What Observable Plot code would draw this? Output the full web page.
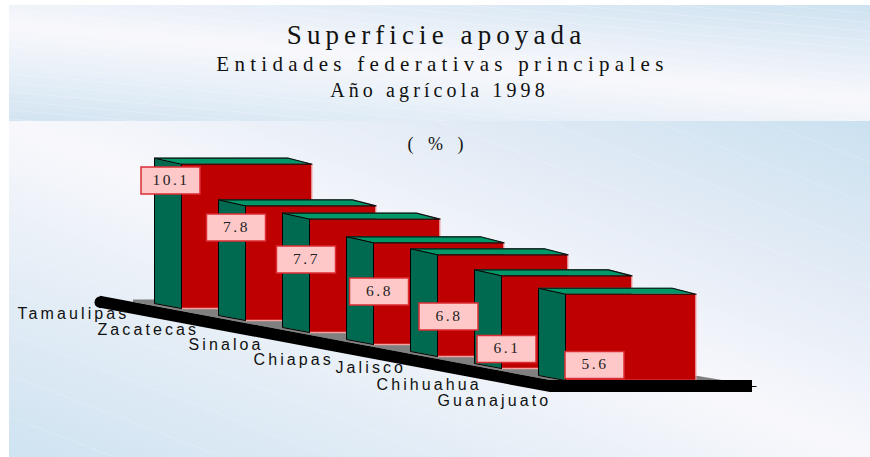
<!DOCTYPE html>
<html lang="es">
<head>
<meta charset="utf-8">
<script src="https://cdn.jsdelivr.net/npm/d3@7"></script>
<script src="https://cdn.jsdelivr.net/npm/@observablehq/plot@0.6"></script>
<style>
  html, body { margin: 0; padding: 0; background: #fff; }
  #page { position: relative; width: 870px; height: 457px; overflow: hidden; }
  #head {
    position: absolute; left: 9px; top: 5px; width: 861px; height: 116px;
    text-align: center; color: #111; font-family: "Liberation Serif", serif;
    background:
      repeating-linear-gradient(185deg, rgba(255,255,255,0) 0 8px, rgba(255,255,255,.18) 8px 9px),
      linear-gradient(185deg, #cde2f0 0%, #e6eef7 28%, #f8f8fc 50%, #e8f0f8 72%, #d2e4f1 100%);
  }
  #head div { position: absolute; left: 0; right: 0; white-space: nowrap; }
  #t1 { top: 15px; font-size: 27px; letter-spacing: 5.1px; transform: translateX(-3px); }
  #t2 { top: 47px; font-size: 21px; letter-spacing: 5.3px; transform: translateX(3px); }
  #t3 { top: 74px; font-size: 20px; letter-spacing: 4.1px; transform: translateX(0px); }
  #back {
    position: absolute; left: 9px; top: 121px; width: 861px; height: 336px;
    background:
      repeating-linear-gradient(201deg, rgba(255,255,255,0) 0 38px, rgba(255,255,255,.16) 38px 39px),
      linear-gradient(201deg, #cbe1f0 0%, #e4ecf6 27%, #f8f8fc 50%, #e4edf6 73%, #cfe3f1 100%);
  }
  #unit {
    position: absolute; left: 0; width: 870px; top: 134px; text-align: center; transform: translateX(3px);
    font: 18px "Liberation Serif", serif; letter-spacing: 5px; white-space: pre; color: #111;
  }
  #chart { position: absolute; left: 0; top: 121px; }
  #chart svg { background: transparent; display: block; }
  g[font-family="Liberation Sans"] text { letter-spacing: 3.1px; }
  g[font-family="Liberation Serif"] text { letter-spacing: 2.5px; }
</style>
</head>
<body>
<div id="page">
  <div id="head">
    <div id="t1">Superficie apoyada</div>
    <div id="t2">Entidades federativas principales</div>
    <div id="t3">Año agrícola 1998</div>
  </div>
  <div id="back"></div>
  <div id="unit">( % )</div>
  <div id="chart"></div>
</div>
<script>
// Data
const categories = ["Tamaulipas", "Zacatecas", "Sinaloa", "Chiapas", "Jalisco", "Chihuahua", "Guanajuato"];
const values = [10.1, 7.8, 7.7, 6.8, 6.8, 6.1, 5.6];

// Hand placement of the labels, in pixels relative to each bar's foot
const boxShiftX = [16.5, 18, 24, 33, 38.5, 32.5, 56.5];
const boxShiftY = [-127.5, -92.5, -72.5, -52.5, -39.5, -19, -15];
const nameShiftX = [-137, -121, -94, -93, -75, -98, -101];
const nameShiftY = [10, 14, 17, 20, 16, 21, 25];

// Oblique projection: x is in category steps, y is in value units sheared along the floor
const W = 870, H = 336;
const stepPx = 64, unitPx = 12.9, footPx = 187, leftPx = 154;
const px = (n) => n / stepPx;          // horizontal pixels to x units
const vu = (n) => n / unitPx;          // vertical pixels to y units
const fall = vu(12);                   // floor drop per category
const pedestal = vu(14);               // the value axis starts below zero

const rows = categories.map((name, i) => {
  const foot = -i * fall;
  return {
    name, value: values[i], i, foot,
    top: foot + values[i] + pedestal,
    xBack: i, xFront: i + px(27), xRight: i + px(157.5), xBackRight: i + px(134)
  };
});

// Floor ramp
const kinkX = px(396), endX = px(598), startX = px(-54);
const kinkY = -6 * fall, thick = vu(12);
const rampTop = (u) => kinkY - (u - kinkX) * fall;
const ramp = [
  {u: startX, a: rampTop(startX), b: rampTop(startX) - thick},
  {u: kinkX, a: kinkY, b: kinkY - thick},
  {u: endX, a: kinkY, b: kinkY - thick}
];
const floor = [
  {u: px(-21), a: vu(8.6), b: rampTop(px(-21))},
  {u: 0, a: vu(8.6), b: rampTop(0)},
  {u: kinkX, a: vu(-47), b: kinkY},
  {u: px(544), a: vu(-68), b: kinkY},
  {u: px(568), a: kinkY, b: kinkY}
];

const RED = "#bf0000", GREEN = "#006a50", TOPGREEN = "#009868";

const barMarks = rows.flatMap((r) => {
  const backFoot = r.foot + vu(5), backTop = r.top + vu(6);
  const side = [
    {u: r.xBack, a: backTop, b: backFoot},
    {u: r.xFront, a: r.top, b: r.foot}
  ];
  const topFace = [
    {v: backTop, a: r.xBack, b: r.xBackRight},
    {v: r.top, a: r.xFront, b: r.xRight}
  ];
  const sideLine = [
    {u: r.xFront, v: r.foot}, {u: r.xBack, v: backFoot}, {u: r.xBack, v: backTop},
    {u: r.xFront, v: r.top}, {u: r.xFront, v: r.foot}
  ];
  const topLine = [
    {u: r.xBack, v: backTop}, {u: r.xBackRight, v: backTop}, {u: r.xRight, v: r.top}, {u: r.xFront, v: r.top}
  ];
  return [
    Plot.rect([r], {x1: "xFront", x2: "xRight", y1: "foot", y2: "top", fill: RED}),
    Plot.ruleX([r], {x: "xRight", y1: "foot", y2: "top", stroke: "#f4a0a0", strokeWidth: 1}),
    Plot.ruleY([r], {y: "foot", x1: "xFront", x2: "xRight", stroke: "#f4a0a0", strokeWidth: 1.5}),
    Plot.areaY(side, {x: "u", y1: "a", y2: "b", fill: GREEN}),
    Plot.areaX(topFace, {y: "v", x1: "a", x2: "b", fill: TOPGREEN}),
    Plot.line(sideLine, {x: "u", y: "v", stroke: "#000", strokeWidth: 1}),
    Plot.line(topLine, {x: "u", y: "v", stroke: "#111", strokeWidth: 1.2})
  ];
});

const boxHalfW = px(29.5), boxHalfH = vu(13.5);
const boxes = rows.map((r) => {
  const cx = r.i + px(boxShiftX[r.i]);
  const cy = r.foot - vu(boxShiftY[r.i]);
  return {value: r.value.toFixed(1), cx, cy, x1: cx - boxHalfW, x2: cx + boxHalfW, y1: cy - boxHalfH, y2: cy + boxHalfH};
});
const names = rows.map((r) => ({
  name: r.name,
  u: r.i + px(nameShiftX[r.i]),
  v: r.foot - vu(nameShiftY[r.i])
}));

const chart = Plot.plot({
  width: W, height: H,
  margin: 0,
  style: {background: "transparent"},
  x: {type: "linear", domain: [px(-leftPx), px(W - leftPx)], range: [0, W], axis: null},
  y: {type: "linear", domain: [vu(footPx - H), vu(footPx)], range: [H, 0], axis: null},
  marks: [
    Plot.areaY(floor, {x: "u", y1: "a", y2: "b", fill: "#808080"}),
    ...barMarks,
    Plot.areaY(ramp, {x: "u", y1: "a", y2: "b", fill: "#000"}),
    Plot.dot([ramp[0]], {x: "u", y: (d) => (d.a + d.b) / 2, r: 6, fill: "#000"}),
    Plot.ruleY([ramp[2]], {y: (d) => (d.a + d.b) / 2, x1: "u", x2: (d) => d.u + px(4.5), stroke: "#000", strokeWidth: 1}),
    Plot.rect(boxes, {x1: "x1", x2: "x2", y1: "y1", y2: "y2", fill: "#ffc8c8", stroke: "#dc2c34", strokeWidth: 1.5}),
    Plot.text(boxes, {x: "cx", y: "cy", text: "value", fontFamily: "Liberation Serif", fontSize: 15.5, fill: "#222", dy: -1}),
    Plot.text(names, {x: "u", y: "v", text: "name", textAnchor: "start", lineAnchor: "bottom", fontFamily: "Liberation Sans", fontSize: 16, fill: "#111"})
  ]
});
document.getElementById("chart").append(chart);
</script>
</body>
</html>
